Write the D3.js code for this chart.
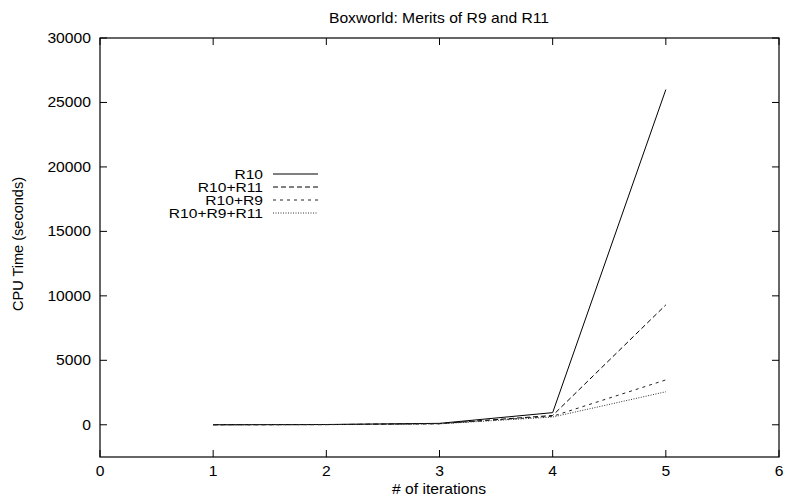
<!DOCTYPE html>
<html>
<head>
<meta charset="utf-8">
<script src="https://cdn.jsdelivr.net/npm/d3@7"></script>
<style>
  body { margin: 0; background: #fff; }
  svg { display: block; font-family: "Liberation Sans", Arial, sans-serif; }
</style>
</head>
<body>
<div id="chart"></div>
<script>
// data
const iterations = [1, 2, 3, 4, 5];
const r10 = [2, 20, 110, 940, 26000];
const r10r11 = [2, 15, 90, 720, 9300];
const r10r9 = [2, 12, 80, 660, 3480];
const r10r9r11 = [2, 10, 70, 600, 2560];
const seriesNames = ['R10', 'R10+R11', 'R10+R9', 'R10+R9+R11'];
const xTicks = [0, 1, 2, 3, 4, 5, 6];
const yTicks = [0, 5000, 10000, 15000, 20000, 25000, 30000];

const width = 785;
const height = 498;
const margin = { top: 38, right: 6, bottom: 41, left: 100 };

const svg = d3.select('#chart')
  .append('svg')
  .attr('width', width)
  .attr('height', height);

const x = d3.scaleLinear().domain([0, 6]).range([margin.left, width - margin.right]);
const y = d3.scaleLinear().domain([-2500, 30000]).range([height - margin.bottom, margin.top]);

// draw a horizontally widened label (text in the reference is a bit wide)
function label(px, py, str, anchor, size, stretch) {
  svg.append('g')
    .attr('transform', `translate(${px},${py}) scale(${stretch},1)`)
    .append('text')
    .attr('text-anchor', anchor)
    .attr('font-size', size)
    .text(str);
}

// ticks (inward, mirrored like gnuplot)
const tickLen = 7;
const g = svg.append('g').attr('stroke', '#000').attr('stroke-width', 1);

xTicks.forEach(t => {
  g.append('line')
    .attr('x1', x(t)).attr('x2', x(t))
    .attr('y1', y.range()[0]).attr('y2', y.range()[0] - tickLen);
  g.append('line')
    .attr('x1', x(t)).attr('x2', x(t))
    .attr('y1', y.range()[1]).attr('y2', y.range()[1] + tickLen);
});
yTicks.forEach(t => {
  g.append('line')
    .attr('x1', x.range()[0]).attr('x2', x.range()[0] + tickLen)
    .attr('y1', y(t)).attr('y2', y(t));
  g.append('line')
    .attr('x1', x.range()[1]).attr('x2', x.range()[1] - tickLen)
    .attr('y1', y(t)).attr('y2', y(t));
});

// frame
svg.append('rect')
  .attr('x', x.range()[0]).attr('y', y.range()[1])
  .attr('width', x.range()[1] - x.range()[0])
  .attr('height', y.range()[0] - y.range()[1])
  .attr('fill', 'none').attr('stroke', '#000').attr('stroke-width', 1.2);

// tick labels
xTicks.forEach(t => label(x(t), y.range()[0] + 19, t, 'middle', 14, 1.12));
yTicks.forEach(t => label(x.range()[0] - 9, y(t) + 5, t, 'end', 14, 1.12));

// titles
label(439, 23, 'Boxworld: Merits of R9 and R11', 'middle', 14, 1.12);
label(439, 494, '# of iterations', 'middle', 14, 1.12);

svg.append('text')
  .attr('transform', 'translate(23,244) rotate(-90) scale(1.04,1)')
  .attr('text-anchor', 'middle').attr('font-size', 14)
  .text('CPU Time (seconds)');

// series
const styles = [
  { dash: null, color: '#000' },
  { dash: '5,3', color: '#000' },
  { dash: '3,4', color: '#222' },
  { dash: '1,1.5', color: '#333' }
];
const allSeries = [r10, r10r11, r10r9, r10r9r11];

const line = d3.line()
  .x((d, i) => x(iterations[i]))
  .y(d => y(d));

allSeries.forEach((vals, i) => {
  svg.append('path')
    .datum(vals)
    .attr('d', line)
    .attr('fill', 'none')
    .attr('stroke', styles[i].color)
    .attr('stroke-width', 1)
    .attr('stroke-dasharray', styles[i].dash);
});

// legend
const legendY = [174, 187, 200, 213];
seriesNames.forEach((name, i) => {
  label(263, legendY[i] + 4.5, name, 'end', 12, 1.3);
  svg.append('line')
    .attr('x1', 273).attr('x2', 318)
    .attr('y1', legendY[i]).attr('y2', legendY[i])
    .attr('stroke', styles[i].color)
    .attr('stroke-width', 1)
    .attr('stroke-dasharray', styles[i].dash);
});
</script>
</body>
</html>
